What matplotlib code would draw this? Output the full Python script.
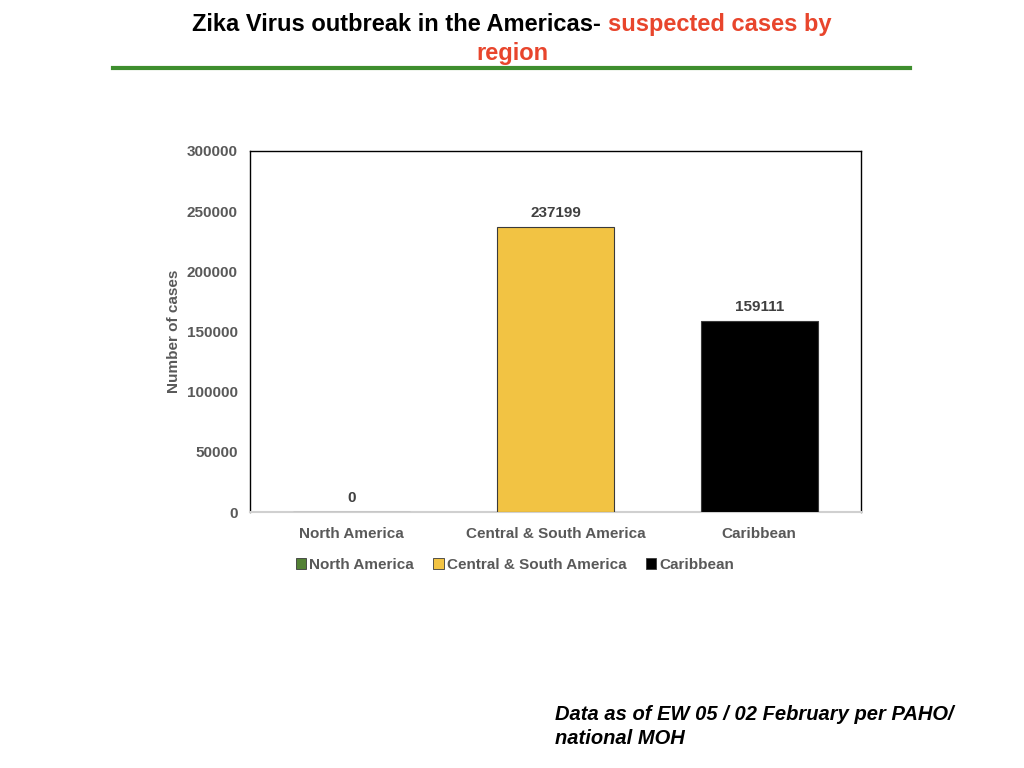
import matplotlib
matplotlib.use("Agg")
import matplotlib.pyplot as plt
from matplotlib.patches import Patch
from matplotlib.lines import Line2D

categories = ["North America", "Central & South America", "Caribbean"]
cases = [0, 237199, 159111]
colors = ["#538135", "#F2C343", "#000000"]
yticks = [0, 50000, 100000, 150000, 200000, 250000, 300000]

plt.rcParams['font.family'] = ['Liberation Sans', 'DejaVu Sans']
gray = "#595959"

fig = plt.figure(figsize=(10.24, 7.68), dpi=100)
W, H = 1024, 768
ax = fig.add_axes([250 / W, 1 - 512 / H, 611 / W, 361 / H])

x = list(range(len(categories)))
bars = ax.bar(x, cases, width=0.575, color=colors, edgecolor="#3a3a3a", linewidth=0.8, zorder=3)
ax.set_xlim(-0.5, 2.5)
ax.set_ylim(0, 300000)
ax.set_yticks(yticks)
ax.set_yticklabels([str(v) for v in yticks], fontsize=11, fontweight='bold', color=gray)
ax.set_xticks(x)
ax.set_xticklabels(categories, fontsize=11, fontweight='bold', color=gray)
ax.tick_params(axis='both', length=0)
ax.tick_params(axis='y', pad=9)
ax.tick_params(axis='x', pad=11)
ax.set_ylabel("Number of cases", fontsize=11, fontweight='bold', color=gray, labelpad=4)

for s in ["left", "top", "right"]:
    ax.spines[s].set_color("black")
    ax.spines[s].set_linewidth(1.0)
ax.spines["bottom"].set_color("#d0d0d0")
ax.spines["bottom"].set_linewidth(1.5)

for xi, v in zip(x, cases):
    ax.annotate(str(v), (xi, v), xytext=(0, 5), textcoords='offset points',
                ha='center', va='bottom', fontsize=11, fontweight='bold', color="#404040")

handles = [Patch(facecolor=c, edgecolor="#3a3a3a", linewidth=0.6) for c in colors]
leg = fig.legend(handles, categories, loc='center', bbox_to_anchor=(515 / W, 1 - 565 / H),
                 ncol=3, frameon=False, fontsize=11, handlelength=0.7, handleheight=0.7,
                 handletextpad=0.2, columnspacing=1.25)
for t in leg.get_texts():
    t.set_color(gray)
    t.set_fontweight('bold')

# Title
fs = 17
t1 = fig.text(0, 0, "Zika Virus outbreak in the Americas- ", fontsize=fs, fontweight='bold', color='black')
fig.canvas.draw()
r = fig.canvas.get_renderer()
w1 = t1.get_window_extent(r).width
t2 = fig.text(0, 0, "suspected cases by", fontsize=fs, fontweight='bold', color='#E8452C')
w2 = t2.get_window_extent(r).width
start = 512 - (w1 + w2) / 2
t1.set_position((start / W, 1 - 31 / H))
t2.set_position(((start + w1) / W, 1 - 31 / H))
fig.text(512 / W, 1 - 60 / H, "region", fontsize=fs, fontweight='bold', color='#E8452C', ha='center')

fig.add_artist(Line2D([113 / W, 910 / W], [1 - 68 / H, 1 - 68 / H], color="#3E8E2E", linewidth=3))

fs2 = 14.5
fig.text(555 / W, 1 - 720 / H, "Data as of EW 05 / 02 February per PAHO/", fontsize=fs2,
         fontweight='bold', fontstyle='italic', color='black')
fig.text(555 / W, 1 - 744 / H, "national MOH", fontsize=fs2,
         fontweight='bold', fontstyle='italic', color='black')

fig.savefig("out.png", dpi=100)
